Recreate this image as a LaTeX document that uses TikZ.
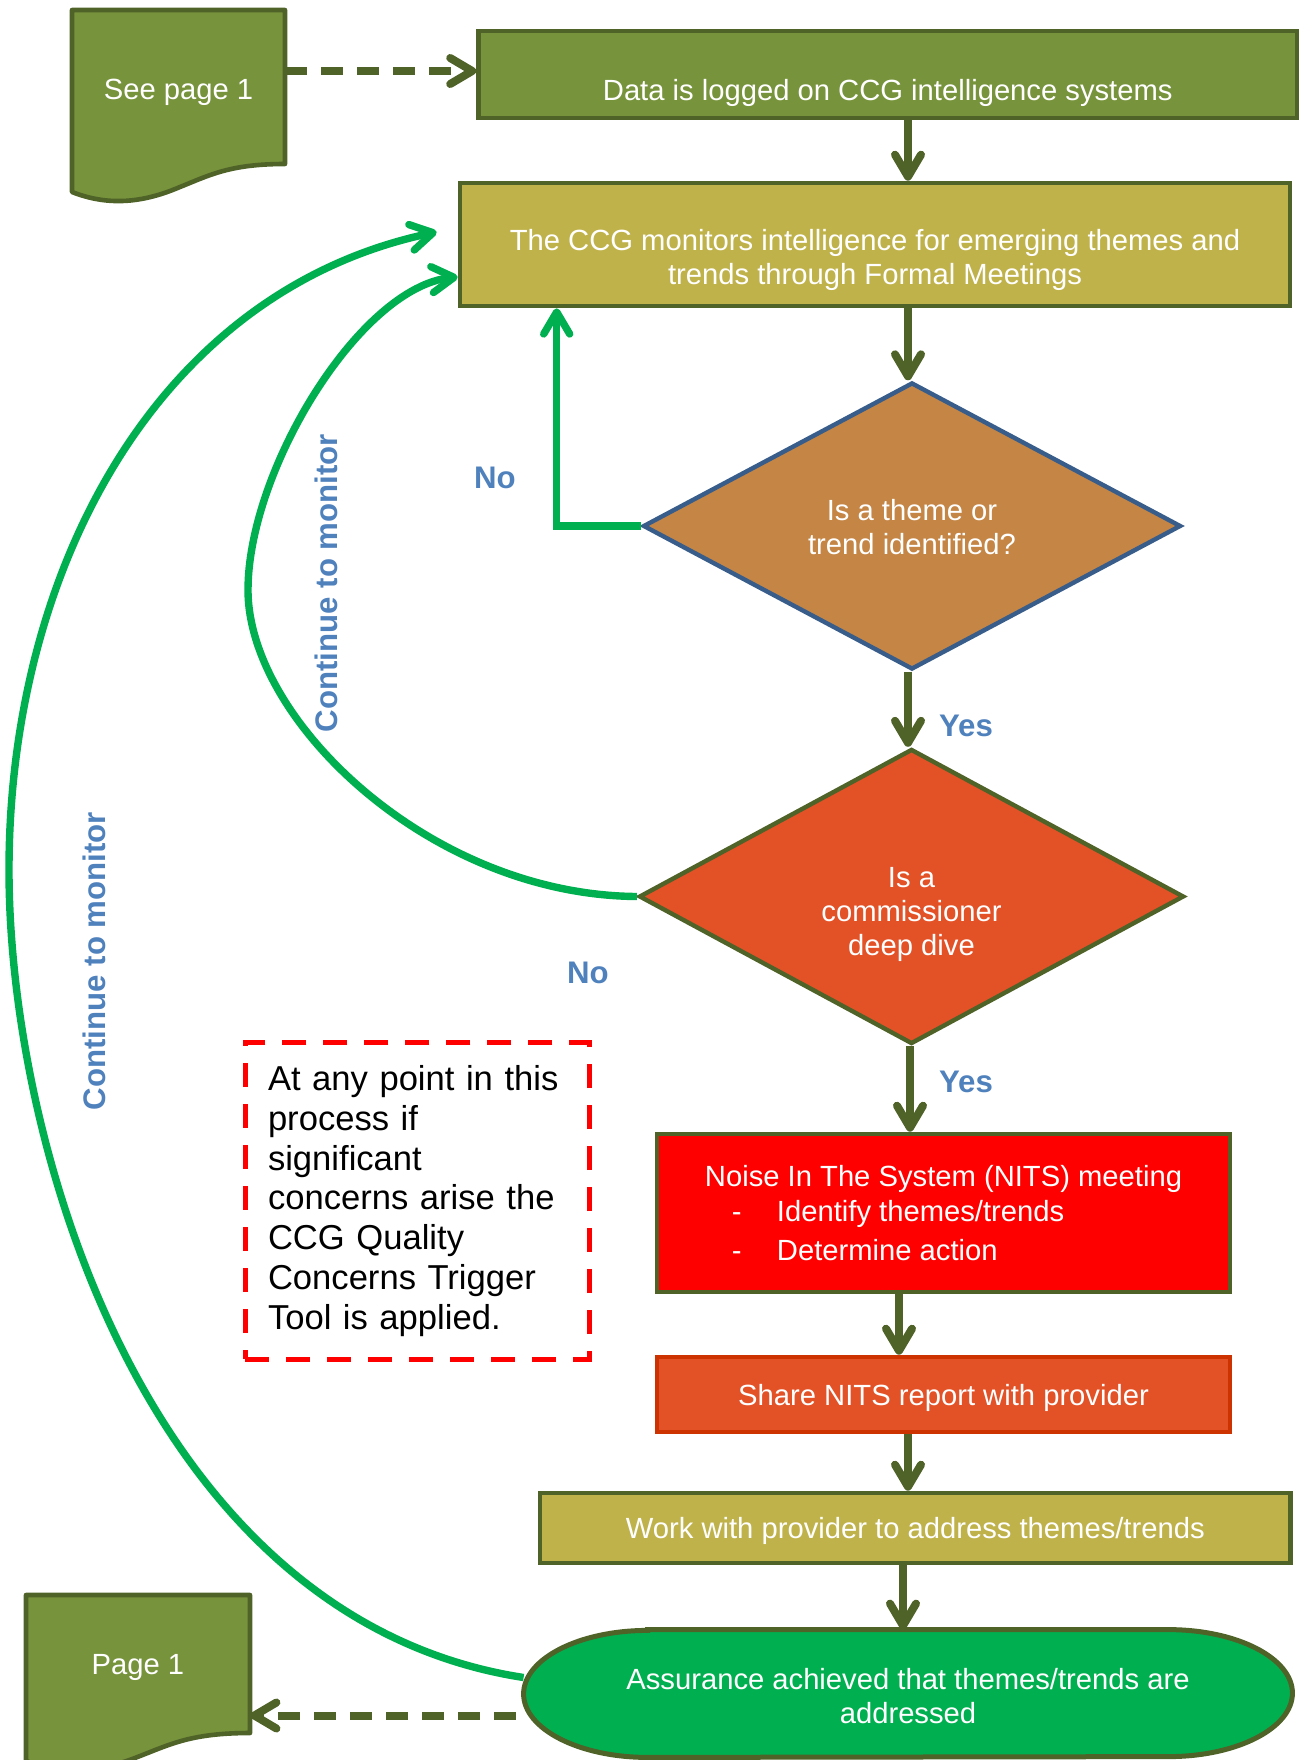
\documentclass[tikz,border=0pt]{standalone}
\usepackage{fontspec}
\setmainfont{Liberation Sans}
\usetikzlibrary{arrows.meta,shapes.geometric}
\definecolor{olivedark}{HTML}{4F6228}
\definecolor{olivemid}{HTML}{77933C}
\definecolor{khaki}{HTML}{C0B24B}
\definecolor{themetan}{HTML}{C48545}
\definecolor{themeblue}{HTML}{385D8A}
\definecolor{deepred}{HTML}{E35127}
\definecolor{sharered}{HTML}{CC3300}
\definecolor{assuregreen}{HTML}{00B050}
\definecolor{labelblue}{HTML}{4F81BD}
\begin{document}
\begin{tikzpicture}[x=0.5pt, y=-0.5pt,
  txt/.style={font=\fontsize{14.6}{17}\selectfont, text=white, align=center},
  flowbox/.style={rectangle, draw=olivedark, line width=2.3pt, txt},
  decision/.style={diamond, aspect=1.85, inner sep=1pt, line width=2.2pt, txt},
  doctext/.style={rectangle, minimum width=106.5pt, minimum height=76.5pt, txt, text depth=0pt},
  docshape/.style={fill=olivemid, draw=olivedark, line width=2.3pt, line join=round},
  headed/.style={-{Straight Barb[length=11pt,width=13pt,round]}},
  flowline/.style={headed, draw=olivedark, line width=4pt},
  backline/.style={headed, draw=assuregreen, line width=3.7pt},
  pagelink/.style={headed, draw=olivedark, line width=4pt, dash pattern=on 11pt off 7pt},
  answer/.style={font=\fontsize{15.6}{18}\selectfont\bfseries, text=labelblue},
  alertnote/.style={draw=red, line width=2.5pt, dash pattern=on 12pt off 8.5pt, text width=149pt, align=left, inner sep=11.5pt, minimum height=157pt, font=\fontsize{17.3}{19.85}\selectfont}
]
\useasboundingbox (0,0) rectangle (1303,1760);

\filldraw[docshape] (72,10) -- (285,10) -- (285,164) .. controls (230,164) and (210,175) .. (180,187) .. controls (145,202) and (110,207) .. (72,192) -- cycle;
\node[doctext] (seepage) at (178.5,89) {See page 1};
\filldraw[docshape] (26,1595) -- (250,1595) -- (250,1733) .. controls (192,1733) and (171,1744) .. (140,1756) .. controls (103,1771) and (66,1776) .. (26,1761) -- cycle;
\node[doctext, minimum width=112pt, minimum height=69pt] (pageone) at (138,1664) {Page 1};

\node[flowbox, fill=olivemid, minimum width=409.25pt, minimum height=43.5pt] (data) at (887.75,74.5) {\rule{0pt}{29pt}Data is logged on CCG intelligence systems};
\node[flowbox, fill=khaki, minimum width=415pt, minimum height=61.5pt] (ccg) at (875,244.5) {\rule{0pt}{26.5pt}The CCG monitors intelligence for emerging themes and\\trends through Formal Meetings};
\node[decision, draw=themeblue, fill=themetan, minimum width=269pt, minimum height=143.5pt] (theme) at (912,526) {\rule{0pt}{12pt}Is a theme or\\trend identified?};
\node[decision, draw=olivedark, fill=deepred, minimum width=272.5pt, minimum height=147.5pt] (comm) at (911.5,896.5) {\rule{0pt}{28pt}Is a\\commissioner\\deep dive};
\node[flowbox, fill=red, minimum width=286.5pt, minimum height=79pt, align=left, font=\fontsize{14.6}{17.5}\selectfont] (nits) at (943.5,1213) {Noise In The System (NITS) meeting\\\hspace*{13.5pt}\makebox[22.5pt][l]{-}Identify themes/trends\\[2pt]\hspace*{13.5pt}\makebox[22.5pt][l]{-}Determine action};
\node[flowbox, draw=sharered, fill=deepred, minimum width=286.5pt, minimum height=37.5pt, text depth=0pt] (share) at (943.5,1394.5) {Share NITS report with provider};
\node[flowbox, fill=khaki, minimum width=375.25pt, minimum height=35pt, text depth=0pt] (work) at (915.25,1528) {Work with provider to address themes/trends};
\node[rectangle, minimum width=384pt, minimum height=63.5pt] (assure) at (908,1693.5) {};
\filldraw[fill=assuregreen, draw=olivedark, line width=2.5pt] ([xshift=62pt]assure.north west) -- ([xshift=-62pt]assure.north east) arc[start angle=90, end angle=-90, x radius=62pt, y radius=31.75pt] -- ([xshift=62pt]assure.south west) arc[start angle=270, end angle=90, x radius=62pt, y radius=31.75pt] -- cycle;
\node[txt] (assuretext) at (assure) {\rule{0pt}{13.5pt}Assurance achieved that themes/trends are\\addressed};

\node[alertnote] (trigger) at (417,1201) {At any point in this\\process if\\significant\\concerns arise the\\CCG Quality\\Concerns Trigger\\Tool is applied.};

\coordinate (spine) at (908,0);
\draw[flowline] (data.south -| spine) -- (ccg.north -| spine);
\draw[flowline] (ccg.south -| spine) -- (theme.north -| spine);
\draw[flowline] (theme.south -| spine) -- (comm.north -| spine);
\draw[flowline] ([xshift=1pt]comm.south -| spine) -- ([xshift=1pt]nits.north -| spine);
\draw[flowline] ([xshift=-4.5pt]nits.south -| spine) -- ([xshift=-4.5pt]share.north -| spine);
\draw[flowline] (share.south -| spine) -- (work.north -| spine);
\draw[flowline] ([xshift=-2.5pt]work.south -| spine) -- ([xshift=-2.5pt]assure.north -| spine);

\draw[backline] (theme.west) -| ([xshift=49.5pt]ccg.south west);
\draw[backline] (comm.west) .. controls (430,895) and (248,720) .. (248,590) .. controls (248,470) and (360,287) .. ([yshift=-16.25pt]ccg.west);
\draw[backline] ([yshift=8pt]assure.west) .. controls (150,1620) and (9,1150) .. (9,870) .. controls (9,570) and (157,291) .. ([xshift=-10.5pt,yshift=6.25pt]ccg.west);

\coordinate (linkstart) at ([yshift=-11pt]assure.west);
\draw[pagelink] ([yshift=1.75pt]seepage.east |- data.west) -- ([yshift=1.75pt]data.west);
\draw[pagelink, shorten <=4pt] (linkstart) -- (linkstart -| pageone.east);

\node[answer] (notheme) at (495,478) {No};
\node[answer] (nodive) at (588,973) {No};
\node[answer] (yestheme) at (966,726) {Yes};
\node[answer] (yesdive) at (966,1082) {Yes};
\node[answer, rotate=90] (monitorinner) at (326,583) {Continue to monitor};
\node[answer, rotate=90] (monitorouter) at (94,961) {Continue to monitor};
\end{tikzpicture}
\end{document}
